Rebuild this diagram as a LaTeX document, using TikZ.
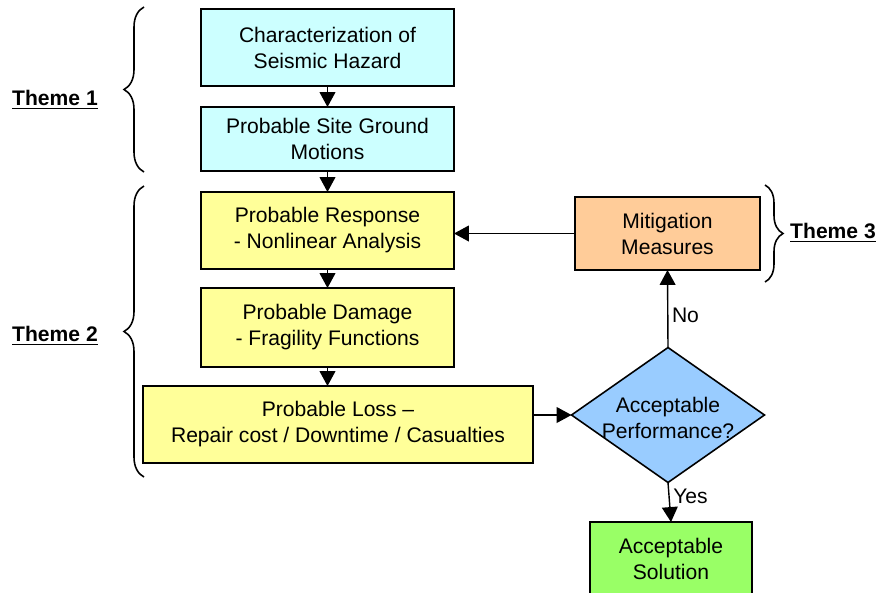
\documentclass[tikz,border=0pt]{standalone}
\usepackage{fontspec}
\setmainfont{Liberation Sans}
\usetikzlibrary{shapes.geometric,arrows.meta,decorations.pathreplacing}
\definecolor{hazardcyan}{HTML}{CCFFFF}
\definecolor{analysisyellow}{HTML}{FFFF99}
\definecolor{mitigorange}{HTML}{FFCC99}
\definecolor{checkblue}{HTML}{99CCFF}
\definecolor{solutiongreen}{HTML}{99FF66}

\begin{document}
\begin{tikzpicture}[x=0.02cm,y=-0.02cm,
        font=\fontsize{12pt}{14.8pt}\selectfont,
        box/.style={draw, line width=0.9pt, align=center, inner sep=0pt, outer sep=0pt},
        arr/.style={-{Triangle[width=9pt,length=8.5pt]}, line width=0.8pt},
        theme/.style={font=\fontsize{12pt}{14.8pt}\selectfont\bfseries},
        bracket/.style={decorate, decoration={brace, amplitude=#1}, line width=0.9pt}]
        \clip (0,0) rectangle (879,592);

        % theme 1
        \node[box, fill=hazardcyan, minimum width=5.06cm, minimum height=1.54cm] (hazard) at (327.5,47.5) {Characterization of\\Seismic Hazard};
        \node[box, fill=hazardcyan, minimum width=5.06cm, minimum height=1.28cm] (ground) at (327.5,139) {Probable Site Ground\\Motions};

        % theme 2
        \node[box, fill=analysisyellow, minimum width=5.06cm, minimum height=1.54cm] (response) at (327.5,230.5) {Probable Response\\- Nonlinear Analysis};
        \node[box, fill=analysisyellow, minimum width=5.06cm, minimum height=1.58cm] (damage) at (327.5,327.5) {Probable Damage\\- Fragility Functions};
        \node[box, fill=analysisyellow, minimum width=7.8cm, minimum height=1.54cm] (loss) at (338,424.5) {Probable Loss –\\Repair cost / Downtime / Casualties};

        % decision
        \node[diamond, draw, line width=0.9pt, fill=checkblue, inner sep=0pt, outer sep=0pt,
              minimum width=3.86cm, minimum height=2.7cm] (check) at (668,415) {};
        \node[align=center] (checktext) at (668,418) {Acceptable\\Performance?};

        % theme 3
        \node[box, fill=mitigorange, minimum width=3.7cm, minimum height=1.46cm] (mitig) at (667.5,233.5) {Mitigation\\Measures};
        \node[box, fill=solutiongreen, minimum width=3.24cm, minimum height=1.48cm] (solution) at (671,559) {Acceptable\\Solution};

        \draw[arr] (hazard) -- (ground);
        \draw[arr] (ground) -- (response);
        \draw[arr] (response) -- (damage);
        \draw[arr] (damage.south) -- (damage.south |- loss.north);
        \draw[arr] (check.west -| loss.east) -- (check.west);
        \draw[arr] (check.north) -- node[right, inner sep=2pt, pos=0.41] (nolabel) {No} (mitig.south);
        \draw[arr] (mitig.west) -- (mitig.west -| response.east);
        \draw[arr] (check.south) -- node[right, inner sep=2pt, pos=0.35] (yeslabel) {Yes} (solution.north);

        % braces
        \draw[bracket=0.4cm] (144,172) -- (144,7);
        \draw[bracket=0.4cm] (144,477) -- (144,186);
        \draw[bracket=0.36cm] (765,185) -- (765,282);
        \node[theme] (themeone) at (55,100) {\underline{Theme 1}};
        \node[theme] (themetwo) at (55,336) {\underline{Theme 2}};
        \node[theme] (themethree) at (833,233) {\underline{Theme 3}};
\end{tikzpicture}
\end{document}
